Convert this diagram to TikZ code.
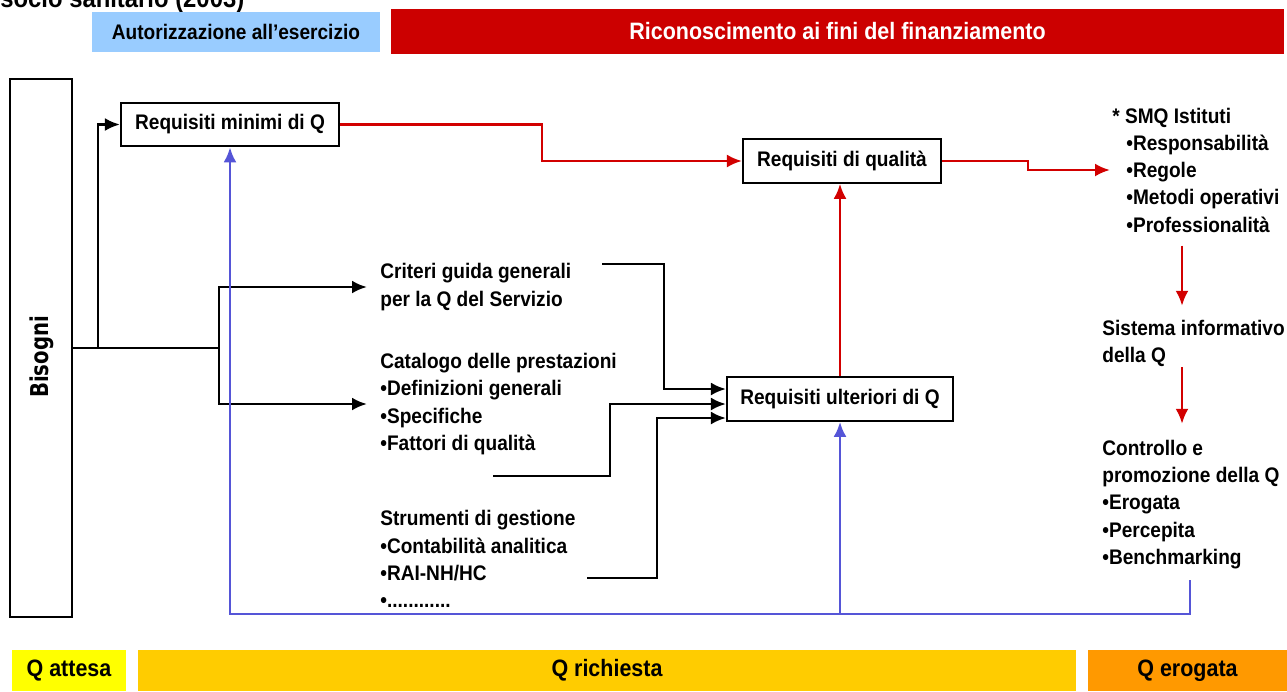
\documentclass[tikz,border=0pt]{standalone}
\usepackage{fontspec}
\setmainfont{Liberation Sans}[FakeStretch=0.905]
\newfontfamily\bisfont{DejaVu Sans}[FakeStretch=0.8]
\usetikzlibrary{calc}
\usetikzlibrary{positioning}
\usetikzlibrary{arrows.meta}

\definecolor{skyband}{RGB}{153,204,255}
\definecolor{redband}{RGB}{204,0,0}
\definecolor{yellowband}{RGB}{255,255,0}
\definecolor{goldband}{RGB}{255,204,0}
\definecolor{orangeband}{RGB}{255,153,0}
\definecolor{redline}{RGB}{210,0,0}
\definecolor{blueline}{RGB}{85,85,215}

\begin{document}
\begin{tikzpicture}[x=0.02cm, y=-0.02cm,
        font=\bfseries\fontsize{12}{15.5}\selectfont,
        box/.style={rectangle, draw=black, line width=1.2pt, minimum height=0.87cm, inner sep=2pt},
        band/.style={rectangle, inner sep=0pt, minimum height=0.82cm},
        txt/.style={align=left, anchor=west, inner sep=0pt},
        tip/.style={-{Latex[length=3mm,width=2.6mm]}},
        wire/.style={draw=black, line width=1.6pt},
        redwire/.style={draw=redline, line width=1.5pt, tip},
        bluewire/.style={draw=blueline, line width=1.6pt, tip}]
            \clip (0,0) rectangle (1287,691);
            \useasboundingbox (0,0) rectangle (1287,691);

            % title, cut at the top
            \node[anchor=base west, inner sep=0pt, font=\bfseries\fontsize{15}{16}\selectfont] (titolo) at (0,7) {socio sanitario (2003)};

            % headers
            \node[band, fill=skyband, minimum width=5.76cm, minimum height=0.8cm] (autoriz) at (236,32) {Autorizzazione all’esercizio};
            \node[band, fill=redband, text=white, minimum width=17.86cm, minimum height=0.9cm,
                font=\bfseries\fontsize{13.5}{14}\selectfont] (ricon) at (837.5,31.5) {Riconoscimento ai fini del finanziamento};

            % boxes
            \node[box, minimum width=1.24cm, minimum height=10.76cm] (bisogni) at (41,348) {};
            \node[rotate=90, font=\bisfont\bfseries\fontsize{14}{15}\selectfont] (bisognitxt) at (42,357) {Bisogni};
            \node[box, minimum width=4.36cm] (minimi) at (230,124.5) {Requisiti minimi di Q};
            \node[box, minimum width=3.96cm] (qualita) at (842,161) {Requisiti di qualità};
            \node[box, minimum width=4.52cm] (ulteriori) at (840,399) {Requisiti ulteriori di Q};

            % texts
            \node[txt] (criteri) at (380,287) {Criteri guida generali\\per la Q del Servizio};
            \node[txt] (catalogo) at (380,404) {Catalogo delle prestazioni\\•Definizioni generali\\•Specifiche\\•Fattori di qualità};
            \node[txt] (strumenti) at (380,559) {Strumenti di gestione\\•Contabilità analitica\\•RAI-NH/HC\\•............};
            \node[txt] (smq) at (1112,170) {* SMQ Istituti\\\hspace*{0.28cm}•Responsabilità\\\hspace*{0.28cm}•Regole\\\hspace*{0.28cm}•Metodi operativi\\\hspace*{0.28cm}•Professionalità};
            \node[txt] (sistema) at (1102,343.5) {Sistema informativo\\della Q};
            \node[txt] (controllo) at (1102,504.5) {Controllo e\\promozione della Q\\•Erogata\\•Percepita\\•Benchmarking};

            % bottom bands
            \node[band, fill=yellowband, minimum width=2.28cm, font=\bfseries\fontsize{13.5}{14}\selectfont] (attesa) at (69,670.5) {Q attesa};
            \node[band, fill=goldband, minimum width=18.76cm, font=\bfseries\fontsize{13.5}{14}\selectfont] (richiesta) at (607,670.5) {Q richiesta};
            \node[band, fill=orangeband, minimum width=3.98cm, font=\bfseries\fontsize{13.5}{14}\selectfont] (erogata) at (1187.5,670.5) {Q erogata};

            % black connectors
            \coordinate (fork) at (98,348);
            \coordinate (split) at (219,348);
            \draw[wire] (bisogni.east) -- (split);
            \draw[wire, tip] (fork) |- (minimi.west);
            \draw[wire, tip, shorten >=0.26cm] (split) |- (criteri.west);
            \draw[wire, tip, shorten >=0.26cm] (split) |- (catalogo.west);
            \coordinate (in1) at (602,264);
            \coordinate (in2) at (493,476);
            \coordinate (in3) at (587,578);
            \draw[wire, tip] (in1) -| ($(ulteriori.west)+(-62,-10)$) -- ($(ulteriori.west)+(0,-10)$);
            \draw[wire, tip] (in2) -| ($(ulteriori.west)+(-116,5)$) -- ($(ulteriori.west)+(0,5)$);
            \draw[wire, tip] (in3) -| ($(ulteriori.west)+(-69,19)$) -- ($(ulteriori.west)+(0,19)$);

            % red connectors
            \draw[redwire] (minimi.east) -- ++(202,0) |- (qualita.west);
            \draw[redwire] (qualita.east) -- ++(86,0) |- ($(smq.west)+(-2,0)$);
            \draw[redwire] (ulteriori.north) -- (ulteriori.north |- qualita.south);
            \coordinate (col) at (1182,0);
            \draw[redwire, shorten <=0.26cm, shorten >=0.28cm] (smq.south -| col) -- (sistema.north -| col);
            \draw[redwire, shorten >=0.32cm] (sistema.south -| col) -- (controllo.north -| col);

            % blue feedback
            \coordinate (fbend) at (1190,580);
            \coordinate (fbase) at (230,614);
            \draw[bluewire] (fbend) |- (fbase) -- (minimi.south);
            \draw[bluewire] (ulteriori.south |- fbase) -- (ulteriori.south);
        \end{tikzpicture}
\end{document}
